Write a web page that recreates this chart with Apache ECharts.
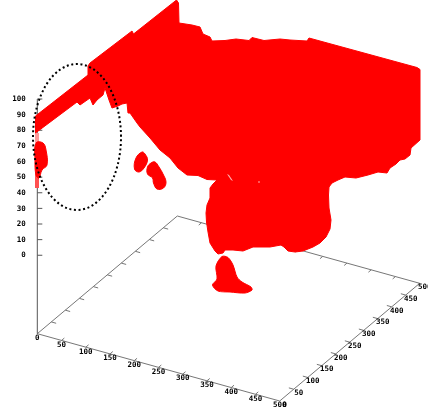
<!DOCTYPE html>
<html>
<head>
<meta charset="utf-8">
<style>html,body{margin:0;padding:0;background:#fff}#c{width:428px;height:412px}</style>
<script src="https://cdn.jsdelivr.net/npm/echarts@6/dist/echarts.min.js"></script>
</head>
<body>
<div id="c"></div>
<script>
// Axis tick values
const xTicks = [0,50,100,150,200,250,300,350,400,450,500];
const yTicks = [0,50,100,150,200,250,300,350,400,450,500];
const zTicks = [0,10,20,30,40,50,60,70,80,90,100];
const zBase = -50.2;

// Point-cloud silhouettes in the view plane
const bodyOutline = [[35.5,116],[88,75],[88,66],[90,63],[132,31],[133.5,34],[176.5,0],[178.5,3],[179,23],[192,25],[200,27],[203,34],[210,37],[212,41],[225,40.5],[236,39],[249,40.5],[252,37.5],[264,40.5],[280,39],[290,40],[307,41],[309,38],[417,67.5],[420,69.5],[420,140],[411,148],[410,155],[405,159],[400,160],[396,164],[390,168],[387,173],[378,172],[368,175],[356,178],[345,177],[338,180],[332,183],[329,187],[328.5,195],[329,208],[331,220],[330,229],[326,237],[320,243],[313,247],[303,251],[295,252],[288,251],[284,247],[281,245],[270,247],[253,247],[243,251],[233,250],[225,250],[223,253],[218,254],[215,251],[210,243],[208,232],[206.5,222],[206,213],[207,205],[210,198],[210,188],[213,184],[217,180],[207,179.5],[198,175.5],[187,175],[178,168],[170,158],[160,150],[150,138],[140,127],[137,123],[130,113],[128,113],[127,103],[122,104],[118,106],[112,108],[109,100],[105,88],[103,95],[97,100],[93,105],[90,98],[80,105],[77,102],[35.5,133]];
const wispOutline = [[36,143],[43,143],[46,150],[47,165],[42,170],[39,178],[36,175],[35,160]];
const wispTailOutline = [[35,172],[39,172],[39,188],[35,188]];
const wispFaintOutline = [[35,133],[39,133],[39,143],[35,143]];
const spotAOutline = [[142,152],[145,154],[147.5,160],[144,168],[139,172],[134.5,169],[136,158]];
const spotBOutline = [[155,162],[159,167],[163,174],[166,182],[163.5,188],[157,189],[153.5,183],[152.5,178],[147.5,174],[147.5,167],[151,163]];
const footOutline = [[222,256.5],[228,257.5],[233,265],[237,277],[242,282],[251,287],[252,290],[245,293],[230,292],[218,291],[212.5,285],[217,279],[216,266]];
const gapOutline = [[227,174],[229,175],[233,181],[231,180]];
const speckOutline = [[258.5,181],[259.5,181],[259.5,183],[258.5,183]];

// Dotted annotation ring
const ringCentre = [77, 137];
const ringRadii = [44, 73];

const X0 = 37.3, Y0 = 333.7;
const project = (x, y, z) => [X0 + x*0.4848 + y*0.28, Y0 + x*0.1346 - y*0.2354 - (z - zBase)*1.5625];

const segments = [];
const seg = (a, b, color) => segments.push({value:[a[0],a[1],b[0],b[1]], color});
const GREY = '#777', DARK = '#555';
seg(project(0,0,zBase), project(500,0,zBase), GREY);
seg(project(500,0,zBase), project(500,500,zBase), GREY);
seg(project(0,0,zBase), project(0,500,zBase), GREY);
seg(project(0,500,zBase), project(500,500,zBase), GREY);
seg([X0,Y0], project(0,0,100), DARK);
xTicks.slice(1,-1).forEach(v => {
  seg(project(v,0,zBase), project(v,10,zBase), GREY);
  seg(project(v,500,zBase), project(v,490,zBase), GREY);
});
yTicks.slice(1,-1).forEach(v => {
  seg(project(0,v,zBase), project(10,v,zBase), GREY);
  seg(project(500,v,zBase), project(490,v,zBase), GREY);
});
zTicks.forEach(v => {
  const p = project(0,0,v);
  seg(p, [p[0]+5,p[1]], DARK);
});

const labels = [];
xTicks.forEach(v => { const p = project(v,0,zBase); labels.push({value:[p[0],p[1]], text:String(v), dx:0, dy:4.4, align:'center'}); });
yTicks.forEach(v => { const p = project(500,v,zBase); labels.push({value:[p[0],p[1]], text:String(v), dx:5, dy:3.8, align:'center'}); });
zTicks.forEach(v => { const p = project(0,0,v); labels.push({value:[p[0],p[1]], text:String(v), dx:-11.5, dy:0.2, align:'right'}); });

const blob = (outline, color, z, smooth, width) => ({
  type:'custom', coordinateSystem:'cartesian2d', silent:true, z, clip:false, animation:false,
  data: outline,
  renderItem: (params, api) => params.dataIndex === 0 ? {
    type:'polygon',
    shape:{points: outline.map(p => api.coord(p)), smooth: smooth || 0},
    style:{fill:color, stroke:color, lineWidth: width === undefined ? 1 : width, lineJoin:'round'}
  } : null
});

const option = {
  animation:false,
  backgroundColor:'#fff',
  grid:{left:0,right:0,top:0,bottom:0,show:false},
  xAxis:{type:'value',min:0,max:428,show:false},
  yAxis:{type:'value',min:0,max:412,inverse:true,show:false},
  series:[
    {
      type:'custom', silent:true, z:1, clip:false, data:segments.map(s=>({value:s.value})),
      renderItem:(params, api) => {
        const a = api.coord([api.value(0),api.value(1)]), b = api.coord([api.value(2),api.value(3)]);
        return {type:'line', shape:{x1:a[0],y1:a[1],x2:b[0],y2:b[1]}, style:{stroke:segments[params.dataIndex].color, lineWidth:1}};
      }
    },
    {
      type:'custom', silent:true, z:2, clip:false, data:labels.map(l=>l.value),
      renderItem:(params, api) => {
        const l = labels[params.dataIndex], a = api.coord(l.value);
        return {type:'text', style:{text:l.text, x:a[0]+l.dx, y:a[1]+l.dy, align:l.align, verticalAlign:'middle', fill:'#000', font:'bold 7.5px "DejaVu Sans Mono"'}};
      }
    },
    blob(wispFaintOutline,'#ff9a9a',3,0,0),
    blob(wispTailOutline,'#ff5050',3,0,0),
    blob(wispOutline,'#ff0000',4,0.4),
    blob(spotAOutline,'#ff0000',4,0.4),
    blob(spotBOutline,'#ff0000',4,0.4),
    blob(footOutline,'#ff0000',4,0.3),
    blob(bodyOutline,'#ff0000',4),
    {
      type:'custom', silent:true, z:5, clip:false, data:[ringCentre],
      renderItem:(params, api) => {
        const c = api.coord(ringCentre);
        return {type:'ellipse', shape:{cx:c[0],cy:c[1],rx:ringRadii[0],ry:ringRadii[1]}, style:{fill:'none', stroke:'#000', lineWidth:2, lineDash:[2,2.6]}};
      }
    },
    blob(gapOutline,'#ffb0b0',5,0,0),
    blob(speckOutline,'#ffb0b0',5,0,0)
  ]
};
const chart = echarts.init(document.getElementById('c'), null, {renderer:'canvas'});
chart.setOption(option);
</script>
</body>
</html>
